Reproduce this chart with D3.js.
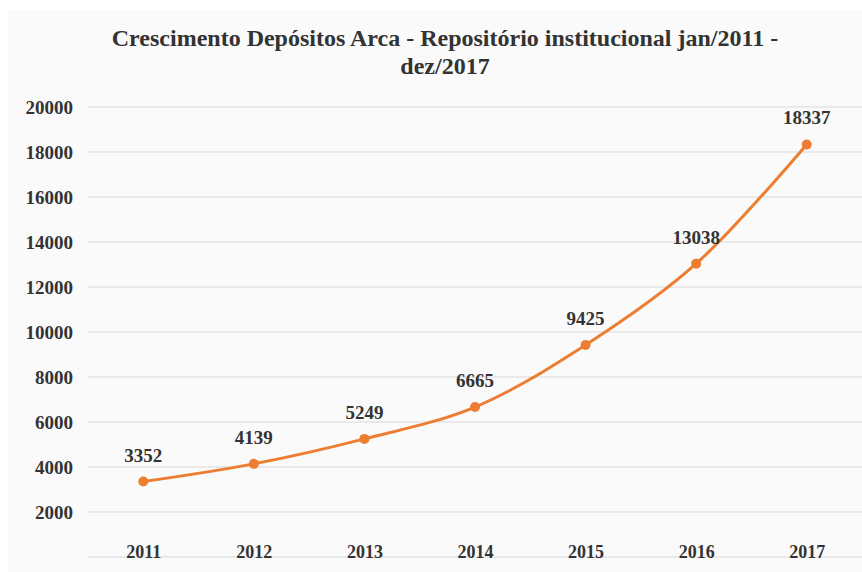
<!DOCTYPE html>
<html>
<head>
<meta charset="utf-8">
<script src="https://cdn.jsdelivr.net/npm/d3@7"></script>
<style>
  body { margin: 0; background: #fff; }
  text { font-family: "Liberation Serif", "Times New Roman", serif; font-weight: bold; fill: #333; }
</style>
</head>
<body>
<div id="chart"></div>
<script>
const years = ["2011", "2012", "2013", "2014", "2015", "2016", "2017"];
const deposits = [3352, 4139, 5249, 6665, 9425, 13038, 18337];
const yTicks = [2000, 4000, 6000, 8000, 10000, 12000, 14000, 16000, 18000, 20000];
const titleLines = ["Crescimento Depósitos Arca - Repositório institucional jan/2011 -", "dez/2017"];

(function () {
  const W = 862, H = 572;
  const margin = { top: 107, right: 0, bottom: 15, left: 88 };
  const width = W - margin.left - margin.right;
  const height = H - margin.top - margin.bottom;
  const lineColour = "#ed7d31";

  const svg = d3.select("#chart").append("svg")
    .attr("width", W).attr("height", H);

  // light chart-area background
  svg.append("rect")
    .attr("x", 8).attr("y", 10)
    .attr("width", W - 8).attr("height", H - 10)
    .attr("fill", "#fafafa");

  svg.append("text")
    .attr("text-anchor", "middle")
    .attr("font-size", "24px")
    .selectAll("tspan").data(titleLines).enter().append("tspan")
    .attr("x", 445)
    .attr("y", (d, i) => 46 + i * 28)
    .text(d => d);

  const g = svg.append("g").attr("transform", `translate(${margin.left},${margin.top})`);

  const x = d3.scalePoint().domain(years).range([0, width]).padding(0.5);
  const y = d3.scaleLinear().domain([0, 20000]).range([height, 0]);

  // gridlines incl. baseline at 0
  g.append("g").selectAll("line").data([0].concat(yTicks)).enter().append("line")
    .attr("x1", 0).attr("x2", width)
    .attr("y1", d => y(d)).attr("y2", d => y(d))
    .attr("stroke", "#d9d9d9").attr("stroke-width", 1);

  const yAxis = g.append("g")
    .call(d3.axisLeft(y).tickValues(yTicks).tickFormat(d3.format("d")).tickSize(0).tickPadding(15));
  yAxis.select(".domain").remove();
  yAxis.selectAll("text")
    .attr("font-size", "19px")
    .attr("font-family", null);

  const xAxis = g.append("g")
    .attr("transform", `translate(0,${height})`)
    .call(d3.axisBottom(x).tickSize(0).tickPadding(0));
  xAxis.select(".domain").remove();
  xAxis.selectAll("text")
    .attr("font-size", "18px")
    .attr("font-family", null)
    .attr("dy", "0")
    .attr("y", 1);

  g.append("path")
    .datum(deposits)
    .attr("fill", "none")
    .attr("stroke", lineColour)
    .attr("stroke-width", 3)
    .attr("d", d3.line()
      .x((d, i) => x(years[i]))
      .y(d => y(d))
      .curve(d3.curveCatmullRom));

  g.selectAll(".dot").data(deposits).enter().append("circle")
    .attr("class", "dot")
    .attr("cx", (d, i) => x(years[i]))
    .attr("cy", d => y(d))
    .attr("r", 5)
    .attr("fill", lineColour);

  g.selectAll(".lbl").data(deposits).enter().append("text")
    .attr("class", "lbl")
    .attr("x", (d, i) => x(years[i]))
    .attr("y", d => y(d) - 20)
    .attr("text-anchor", "middle")
    .attr("font-size", "19px")
    .text(d => d);
})();
</script>
</body>
</html>
